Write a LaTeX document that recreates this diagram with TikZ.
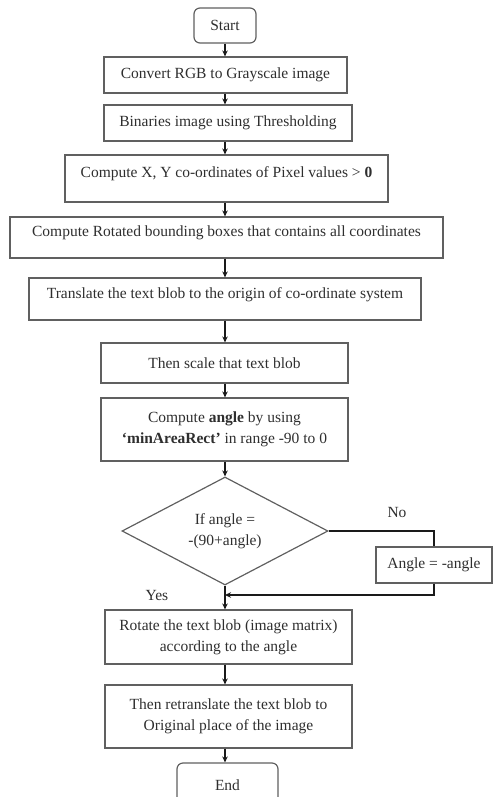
\documentclass[tikz,border=0pt]{standalone}
\usepackage{fontspec}
\setmainfont{Liberation Serif}
\usetikzlibrary{arrows.meta,shapes.geometric}
\definecolor{boxline}{HTML}{606060}
\definecolor{txt}{HTML}{2E2E2E}
\definecolor{arrline}{HTML}{1A1A1A}
\begin{document}
\begin{tikzpicture}[x=1pt,y=-1pt,
  every node/.style={text=txt,font=\fontsize{15.5}{21}\selectfont},
  procbox/.style={draw=boxline,line width=1.2pt,rectangle,inner sep=0pt,align=center},
  termbox/.style={procbox,rounded corners=6pt},
  upper/.style={text depth=12pt},
  decision/.style={draw=boxline,line width=1.2pt,diamond,aspect=2,inner sep=0pt,align=center,minimum width=206pt,minimum height=108pt},
  arr/.style={draw=arrline,line width=1.1pt,-{Stealth[length=6pt,width=5.5pt]}},
  plain/.style={draw=arrline,line width=1.1pt}
]
\useasboundingbox (0,0) rectangle (495,797);

\node[termbox,minimum width=62pt,minimum height=35pt] (start) at (225,25.5) {Start};
\node[procbox,minimum width=243pt,minimum height=36pt] (convert) at (225.5,75) {Convert RGB to Grayscale image};
\node[procbox,minimum width=248pt,minimum height=36pt] (binar) at (228,123) {Binaries image using Thresholding};
\node[procbox,upper,minimum width=323pt,minimum height=47pt] (compxy) at (226.5,178.5) {Compute X, Y co-ordinates of Pixel values > \textbf{0}};
\node[procbox,upper,minimum width=433pt,minimum height=41pt] (rotbb) at (226.5,237.5) {Compute Rotated bounding boxes that contains all coordinates};
\node[procbox,upper,minimum width=392pt,minimum height=42pt] (transl) at (225,299) {Translate the text blob to the origin of co-ordinate system};
\node[procbox,minimum width=247pt,minimum height=40pt] (scale) at (224.5,363) {Then scale that text blob};
\node[procbox,minimum width=247pt,minimum height=63pt] (angle) at (224.5,429.5) {Compute \textbf{angle} by using\\\textbf{‘minAreaRect’} in range -90 to 0};
\node[decision] (dia) at (225,531) {If angle =\\-(90+angle)};
\node[procbox,minimum width=116pt,minimum height=36pt] (neg) at (434,565) {Angle = -angle};
\node[procbox,minimum width=247pt,minimum height=54pt] (rotate) at (228.5,637) {Rotate the text blob (image matrix)\\according to the angle};
\node[procbox,minimum width=247pt,minimum height=63pt] (retrans) at (228.5,716.5) {Then retranslate the text blob to\\Original place of the image};
\node[termbox,minimum width=101pt,minimum height=44pt] (end) at (227.5,785) {End};

\node (nolab) at (397,512) {No};
\node (yeslab) at (157,595) {Yes};

\coordinate (join) at (225,595);

\draw[arr] (start.south) -- (start.south |- convert.north);
\draw[arr] (convert.south -| start) -- (binar.north -| start);
\draw[arr] (binar.south -| start) -- (compxy.north -| start);
\draw[arr] (compxy.south -| start) -- (rotbb.north -| start);
\draw[arr] (rotbb.south -| start) -- (transl.north -| start);
\draw[arr] (transl.south -| start) -- (scale.north -| start);
\draw[arr] (scale.south -| start) -- (angle.north -| start);
\draw[arr] (angle.south -| start) -- (dia.north);
\draw[plain] (dia.east) -- (dia.east -| neg) -- (neg.north);
\draw[arr] (neg.south) |- (join);
\draw[arr] (dia.south) -- (rotate.north -| dia);
\draw[arr] (rotate.south -| dia) -- (retrans.north -| dia);
\draw[arr] (retrans.south -| dia) -- (end.north -| dia);
\end{tikzpicture}
\end{document}
